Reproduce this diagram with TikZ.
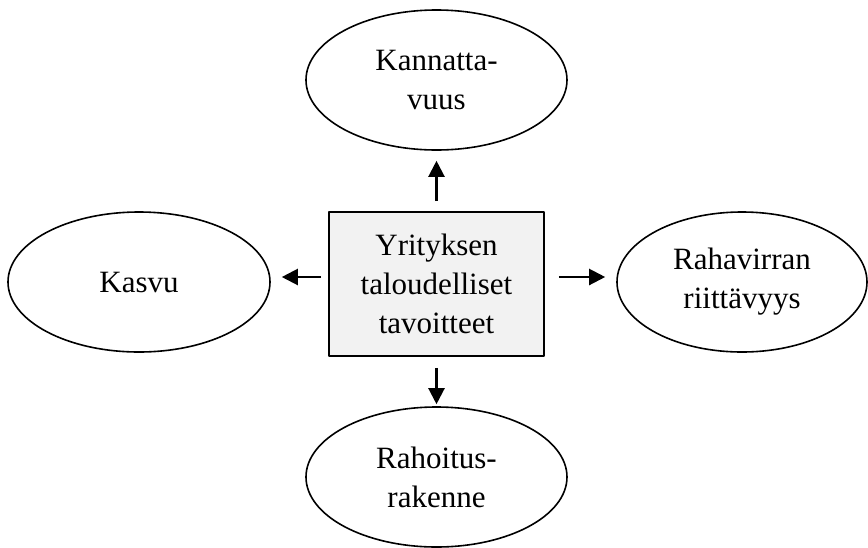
\documentclass[tikz,border=0pt]{standalone}
\usepackage{fontspec}
\setmainfont{Liberation Serif}
\usetikzlibrary{shapes.geometric,arrows.meta}
\begin{document}
\begin{tikzpicture}[x=0.5pt,y=-0.5pt,line join=round,>={Triangle[length=8pt,width=8pt]},
	font=\fontsize{15.5}{19.5}\selectfont,
	goal/.style={draw,ellipse,line width=0.8pt,inner sep=0pt,minimum height=70pt,align=center},
	core/.style={draw,fill=black!5,line width=0.9pt,inner sep=0pt,minimum width=107.5pt,minimum height=72pt,align=center},
	link/.style={->,line width=1.1pt}]
	
	\useasboundingbox (0,0) rectangle (868,547);
	\clip (0,0) rectangle (868,547);
	% keskus
	\node[core] (tavoite) at (436.5,284) {Yrityksen\\taloudelliset\\tavoitteet};
	% tavoitteet
	\node[goal,minimum width=130.5pt] (kannatt) at (436.5,80) {Kannatta-\\vuus};
	\node[goal,minimum width=131pt] (kasvu) at (139,282) {Kasvu};
	\node[goal,minimum width=125pt] (raha) at (742,282) {Rahavirran\\riittävyys};
	\node[goal,minimum width=130.5pt] (rakenne) at (436.5,477) {Rahoitus-\\rakenne};
	% nuolet
	\draw[link,shorten <=5pt,shorten >=5pt] (tavoite.north) -- (kannatt.south);
	\draw[link,shorten <=5.5pt,shorten >=1pt] (tavoite.south) -- (rakenne.north);
	\draw[link,shorten <=3.5pt,shorten >=5.5pt] ([yshift=3.5pt]tavoite.west) -- ([yshift=3.5pt]tavoite.west -| kasvu.east);
	\draw[link,shorten <=7pt,shorten >=5.5pt] ([yshift=3.5pt]tavoite.east) -- ([yshift=3.5pt]tavoite.east -| raha.west);
\end{tikzpicture}
\end{document}
